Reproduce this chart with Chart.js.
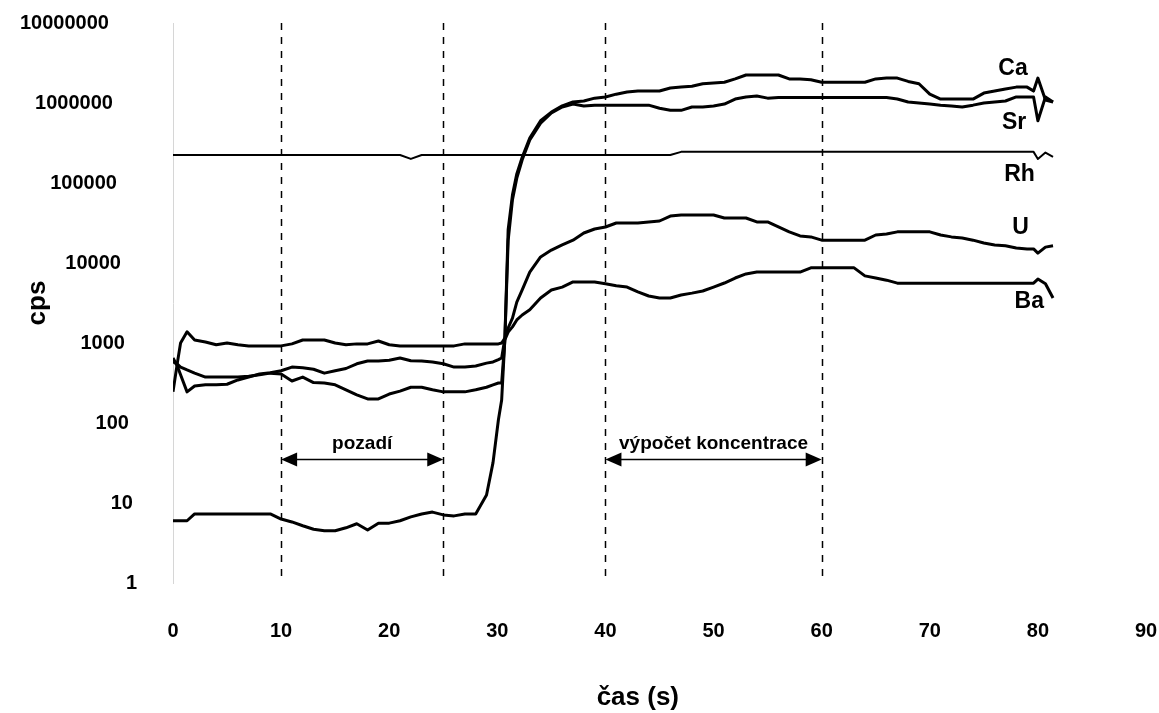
<!DOCTYPE html>
<html>
<head>
<meta charset="utf-8">
<script src="https://cdn.jsdelivr.net/npm/chart.js@4.4.1/dist/chart.umd.min.js"></script>
<style>
  html, body { margin: 0; padding: 0; background: #fff; }
</style>
</head>
<body>
<canvas id="chart" width="1159" height="713"></canvas>
<script>
// sampling times (s), denser around the signal jump and at the very end
const time = [0, 0.4, 0.7, 1.3, 2, 3, 4, 5, 6, 7, 8, 9, 10, 11, 12, 13, 14, 15, 16, 17,
  18, 19, 20, 21, 22, 23, 24, 25, 26, 27, 28, 29, 29.6, 30.1, 30.4, 30.7, 31, 31.4, 31.8, 32.3,
  33, 34, 35, 36, 37, 38, 39, 40, 41, 42, 43, 44, 45, 46, 47, 48, 49, 50, 51, 52,
  53, 54, 55, 56, 57, 58, 59, 60, 61, 62, 63, 64, 65, 66, 67, 68, 69, 70, 71, 72,
  73, 74, 75, 76, 77, 78, 79, 79.6, 80, 80.7, 81.4];

const ca = [245, 560, 1000, 1380, 1090, 1030, 950, 1000, 950, 920, 920, 920, 920, 975, 1090, 1090, 1090, 1000, 950, 975,
  975, 1060, 950, 920, 920, 920, 920, 920, 920, 975, 975, 975, 975, 975, 1000, 1150, 26000, 71000, 130000, 210000,
  365000, 600000, 770000, 920000, 1030000, 1060000, 1150000, 1190000, 1290000, 1370000, 1410000, 1410000, 1410000, 1540000, 1580000, 1620000, 1740000, 1780000, 1820000, 2000000,
  2240000, 2240000, 2240000, 2240000, 2000000, 2000000, 1950000, 1820000, 1820000, 1820000, 1820000, 1820000, 2000000, 2050000, 2050000, 1860000, 1740000, 1290000, 1120000, 1120000,
  1120000, 1120000, 1330000, 1410000, 1500000, 1580000, 1580000, 1410000, 2050000, 1090000, 1030000];

const sr = [650, 515, 400, 245, 290, 300, 300, 305, 345, 375, 410, 425, 450, 500, 490, 470, 420, 450, 480, 550,
  595, 595, 610, 650, 600, 595, 580, 550, 500, 500, 515, 560, 580, 620, 650, 1150, 19000, 62000, 115000, 195000,
  345000, 560000, 750000, 890000, 970000, 920000, 940000, 940000, 940000, 940000, 940000, 940000, 860000, 810000, 810000, 890000, 890000, 920000, 970000, 1120000,
  1190000, 1220000, 1150000, 1170000, 1170000, 1170000, 1170000, 1170000, 1170000, 1170000, 1170000, 1170000, 1170000, 1170000, 1120000, 1030000, 1000000, 970000, 940000, 920000,
  890000, 940000, 1000000, 1030000, 1060000, 1190000, 1190000, 1190000, 600000, 1190000, 1030000];

const rh = [224000, 224000, 224000, 224000, 224000, 224000, 224000, 224000, 224000, 224000, 224000, 224000, 224000, 224000, 224000, 224000, 224000, 224000, 224000, 224000,
  224000, 224000, 224000, 224000, 200000, 224000, 224000, 224000, 224000, 224000, 224000, 224000, 224000, 224000, 224000, 224000, 224000, 224000, 224000, 224000,
  224000, 224000, 224000, 224000, 224000, 224000, 224000, 224000, 224000, 224000, 224000, 224000, 224000, 224000, 245000, 245000, 245000, 245000, 245000, 245000,
  245000, 245000, 245000, 245000, 245000, 245000, 245000, 245000, 245000, 245000, 245000, 245000, 245000, 245000, 245000, 245000, 245000, 245000, 245000, 245000,
  245000, 245000, 245000, 245000, 245000, 245000, 245000, 245000, 200000, 240000, 212000];

const u = [6, 6, 6, 6, 7.3, 7.3, 7.3, 7.3, 7.3, 7.3, 7.3, 7.3, 6.3, 5.8, 5.2, 4.7, 4.5, 4.5, 4.9, 5.5,
  4.6, 5.6, 5.6, 6, 6.7, 7.3, 7.7, 7.1, 6.9, 7.3, 7.3, 12.6, 32, 110, 194, 1150, 1540, 2040, 3240, 4600,
  7700, 11900, 14500, 16800, 19300, 23700, 26600, 28200, 31600, 31600, 31600, 32600, 33500, 38600, 39800, 39800, 39800, 39800, 36500, 36500,
  36500, 32600, 32600, 28200, 24500, 21800, 21200, 19300, 19300, 19300, 19300, 19300, 22400, 23000, 24500, 24500, 24500, 24500, 22400, 21200,
  20500, 19300, 17800, 16800, 16400, 15400, 15000, 15000, 13300, 15800, 16400];

const ba = [580, 545, 500, 460, 420, 375, 375, 375, 375, 385, 400, 420, 410, 335, 375, 320, 316, 300, 260, 225,
  200, 200, 230, 250, 280, 280, 260, 245, 245, 245, 260, 280, 300, 316, 316, 1100, 1370, 1590, 1940, 2240,
  2600, 3650, 4600, 5000, 5800, 5800, 5800, 5500, 5200, 5000, 4350, 3870, 3650, 3650, 3980, 4200, 4470, 5000, 5620, 6490,
  7300, 7700, 7700, 7700, 7700, 7700, 8700, 8700, 8700, 8700, 8700, 6900, 6500, 6100, 5600, 5600, 5600, 5600, 5600, 5600,
  5600, 5600, 5600, 5600, 5600, 5600, 5600, 5600, 6300, 5500, 3650];

const seriesNames = ["Ca", "Sr", "Rh", "U", "Ba"];
const seriesValues = [ca, sr, rh, u, ba];
const seriesWidths = [3, 3, 2, 3, 3];

const yTicks = [1, 10, 100, 1000, 10000, 100000, 1000000, 10000000];
const xTicks = [0, 10, 20, 30, 40, 50, 60, 70, 80, 90];

// dashed time markers and the two marked intervals
const markers = [10, 25, 40, 60];
const spans = [
  { from: 10, to: 25, text: "pozadí" },
  { from: 40, to: 60, text: "výpočet koncentrace" },
];
const spanLevel = 35;

// where the element names sit, in data units
const nameSpots = [[77.7, 2.66e6], [77.8, 5.6e5], [78.3, 1.26e5], [78.4, 2.8e4], [79.2, 3.25e3]];

const FONT = "'Liberation Sans', Arial, Helvetica, sans-serif";
Chart.defaults.font.family = FONT;
Chart.defaults.font.weight = "bold";
Chart.defaults.color = "#000";

const overlay = {
  id: "overlay",
  beforeDatasetsDraw(chart) {
    const { ctx, chartArea: a, scales } = chart;
    ctx.save();
    ctx.strokeStyle = "#000";
    ctx.lineWidth = 1.5;
    ctx.setLineDash([7, 7]);
    markers.forEach((m) => {
      const px = Math.round(scales.x.getPixelForValue(m)) + 0.5;
      ctx.beginPath();
      ctx.moveTo(px, a.top);
      ctx.lineTo(px, a.bottom - 4);
      ctx.stroke();
    });
    ctx.restore();
  },
  afterDatasetsDraw(chart) {
    const { ctx, scales } = chart;
    const x = scales.x, y = scales.y;
    ctx.save();
    ctx.fillStyle = "#000";
    ctx.strokeStyle = "#000";

    const ay = Math.round(y.getPixelForValue(spanLevel)) + 0.5;
    spans.forEach((s) => {
      const x1 = x.getPixelForValue(s.from);
      const x2 = x.getPixelForValue(s.to);
      ctx.lineWidth = 1.5;
      ctx.beginPath();
      ctx.moveTo(x1 + 10, ay);
      ctx.lineTo(x2 - 10, ay);
      ctx.stroke();
      [[x1, -1], [x2, 1]].forEach(([tip, dir]) => {
        ctx.beginPath();
        ctx.moveTo(tip, ay);
        ctx.lineTo(tip - dir * 16, ay - 7);
        ctx.lineTo(tip - dir * 16, ay + 7);
        ctx.closePath();
        ctx.fill();
      });
      ctx.font = "bold 19px " + FONT;
      ctx.textAlign = "center";
      ctx.textBaseline = "alphabetic";
      ctx.fillText(s.text, (x1 + x2) / 2, ay - 11);
    });

    ctx.font = "bold 23px " + FONT;
    ctx.textAlign = "center";
    ctx.textBaseline = "middle";
    seriesNames.forEach((name, i) => {
      const [tx, ty] = nameSpots[i];
      ctx.fillText(name, x.getPixelForValue(tx), y.getPixelForValue(ty));
    });
    ctx.restore();
  },
};

new Chart(document.getElementById("chart"), {
  type: "scatter",
  data: {
    datasets: seriesNames.map((name, i) => ({
      label: name,
      data: seriesValues[i].map((v, k) => ({ x: time[k], y: v })),
      showLine: true,
      borderColor: "#000",
      borderWidth: seriesWidths[i],
      pointRadius: 0,
      tension: 0,
      borderJoinStyle: "round",
    })),
  },
  options: {
    responsive: false,
    animation: false,
    layout: { padding: { top: 23, right: 13, left: 0, bottom: 0 } },
    plugins: { legend: { display: false }, tooltip: { enabled: false } },
    scales: {
      x: {
        type: "linear",
        min: 0,
        max: 90,
        afterBuildTicks: (s) => { s.ticks = xTicks.map((v) => ({ value: v })); },
        // fixed band under the plot; the big tick padding must not eat the sides
        afterFit: (s) => { s.height = 130; s.paddingLeft = 0; s.paddingRight = 0; },
        grid: { display: false, drawTicks: false },
        border: { display: false },
        ticks: { padding: 36, maxRotation: 0, font: { size: 20, weight: "bold" } },
        // trailing spaces pull the title a little left, as in the original
        title: { display: true, text: "čas (s)      ", font: { size: 26, weight: "bold" }, padding: 0 },
      },
      y: {
        type: "logarithmic",
        min: 1,
        max: 10000000,
        afterBuildTicks: (s) => { s.ticks = yTicks.map((v) => ({ value: v })); },
        afterFit: (s) => { s.width = 173; s.paddingTop = 0; s.paddingBottom = 0; },
        grid: { display: false, drawTicks: false },
        border: { display: true, color: "#d6d6d6", dash: [1, 5] },
        ticks: {
          padding: 36,
          font: { size: 20, weight: "bold" },
          // labels drift left as they grow, like the scanned figure
          callback: (v) => String(v) + "\u2009".repeat(Math.round(Math.log10(v))),
        },
        title: { display: true, text: "cps", font: { size: 26, weight: "bold" }, padding: { top: 22, bottom: 0 } },
      },
    },
  },
  plugins: [overlay],
});
</script>
</body>
</html>
